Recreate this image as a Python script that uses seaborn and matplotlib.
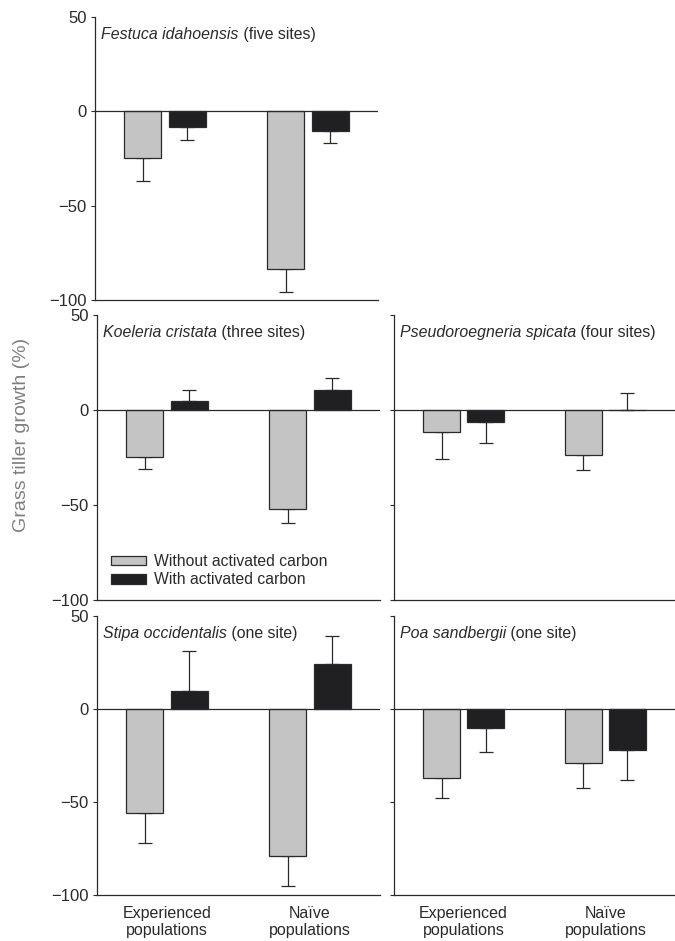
import matplotlib
matplotlib.use('Agg')
import matplotlib.pyplot as plt
import pandas as pd
import seaborn as sns

sns.set_theme(style='white')
plt.rcParams['font.family'] = ['Liberation Sans', 'DejaVu Sans']

species = ['Festuca idahoensis', 'Koeleria cristata', 'Pseudoroegneria spicata',
           'Stipa occidentalis', 'Poa sandbergii']
site_notes = ['(five sites)', '(three sites)', '(four sites)', '(one site)', '(one site)']
populations = ['Experienced\npopulations', 'Naïve\npopulations']
treatments = ['Without activated carbon', 'With activated carbon']

# mean growth (%) per species: [experienced, naive]
without_mean = [[-24.5, -83.5], [-24.5, -52], [-11.5, -23.5], [-56, -79], [-37, -29]]
without_err = [[12.5, 12.5], [6.5, 7.5], [14.5, 8], [16, 16], [11, 13.5]]
with_mean = [[-8.5, -10.5], [4.5, 10.5], [-6.5, 0], [9.5, 24], [-10, -22]]
with_err = [[6.5, 6.5], [6, 6.5], [11, 9], [21.5, 15], [13, 16]]

W, H = 675, 941
FG = '#2a2a2a'


def box(l, t, r, b):
    return [l / W, 1 - b / H, (r - l) / W, (b - t) / H]


panel_boxes = [
    box(95, 17, 378, 300),
    box(97, 315, 380, 600),
    box(394, 315, 675, 600),
    box(97, 616, 380, 895),
    box(394, 616, 675, 895),
]

rows = []
for i, sp in enumerate(species):
    for j, pop in enumerate(populations):
        rows.append({'species': sp, 'population': pop, 'treatment': treatments[0],
                     'growth': without_mean[i][j], 'err': without_err[i][j]})
        rows.append({'species': sp, 'population': pop, 'treatment': treatments[1],
                     'growth': with_mean[i][j], 'err': with_err[i][j]})
df = pd.DataFrame(rows)

fig = plt.figure(figsize=(W / 100, H / 100), dpi=100)
palette = {treatments[0]: '#c4c4c4', treatments[1]: '#1f1f24'}

for i, sp in enumerate(species):
    ax = fig.add_axes(panel_boxes[i])
    sub = df[df['species'] == sp]
    sns.barplot(data=sub, x='population', y='growth', hue='treatment',
                order=populations, hue_order=treatments, palette=palette,
                width=0.62, gap=0.16, edgecolor=FG, linewidth=0.9,
                errorbar=None, legend=(i == 1), ax=ax, zorder=3)

    # one-sided error bars, pointing away from zero
    for level, container in zip(treatments, ax.containers):
        vals = sub[sub['treatment'] == level].set_index('population').loc[populations]
        for bar, (_, r) in zip(container.patches, vals.iterrows()):
            xc = bar.get_x() + bar.get_width() / 2
            up = r['err'] if r['growth'] >= 0 else 0
            down = r['err'] if r['growth'] < 0 else 0
            ax.errorbar(xc, r['growth'], yerr=[[down], [up]], fmt='none',
                        ecolor=FG, elinewidth=0.9, capsize=5, capthick=0.9, zorder=2)

    ax.axhline(0, color=FG, lw=0.9, zorder=4)
    ax.set_xlim(-0.49, 1.49)
    ax.set_ylim(-100, 50)
    ax.set_yticks([50, 0, -50, -100])
    ax.set_xlabel('')
    ax.set_ylabel('')
    sns.despine(ax=ax)
    for s in ['left', 'bottom']:
        ax.spines[s].set_color(FG)
        ax.spines[s].set_linewidth(0.9)
    ax.tick_params(axis='y', which='both', left=True, length=3, width=0.8,
                   color=FG, pad=3, labelsize=12, labelcolor=FG)
    ax.tick_params(axis='x', bottom=False, length=0, pad=8, labelsize=11.5, labelcolor=FG)
    ax.set_yticklabels(['50', '0', '\u221250', '\u2212100'])
    if i in (2, 4):
        ax.set_yticklabels([])
    if i < 3:
        ax.set_xticklabels([])
    else:
        for lab in ax.get_xticklabels():
            lab.set_linespacing(1.15)

    t = ax.text(0.022, 0.965, sp, transform=ax.transAxes, style='italic',
                fontsize=11.4, color=FG, va='top', ha='left')
    ax.annotate(' ' + site_notes[i], xy=(1, 0), xycoords=t, va='bottom', ha='left',
                fontsize=11.4, color=FG)

    if i == 1:
        ax.legend(loc='lower left', bbox_to_anchor=(0.05, 0.045), frameon=False,
                  borderaxespad=0, borderpad=0, fontsize=11.3, handlelength=2.2,
                  handleheight=0.6, handletextpad=0.5, labelspacing=0.2,
                  labelcolor=FG)

fig.text(22 / W, 1 - 435 / H, 'Grass tiller growth (%)', rotation=90,
         ha='center', va='center', fontsize=14, color='#808080')

fig.savefig('out.png', dpi=100)
